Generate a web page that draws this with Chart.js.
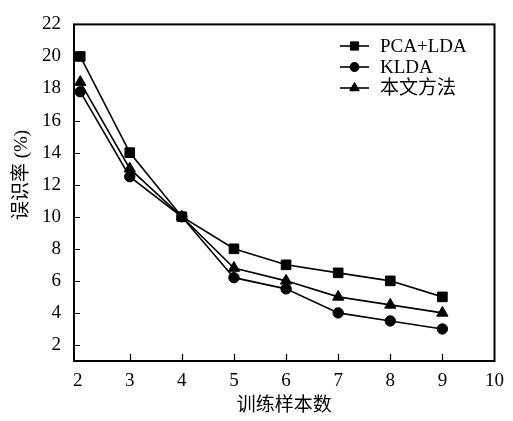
<!DOCTYPE html>
<html>
<head>
<meta charset="utf-8">
<script src="https://cdn.jsdelivr.net/npm/chart.js@4.4.1/dist/chart.umd.min.js"></script>
<style>
  html, body { margin: 0; padding: 0; background: #fff; }
  #wrap { width: 513px; height: 421px; }
</style>
</head>
<body>
<div id="wrap"><canvas id="c" width="513" height="421"></canvas></div>
<script>
// ---- data ----
const trainSamples = [2.05, 3, 4, 5, 6, 7, 8, 9];   // x position of each marker
const pcaLda = [20, 14, 10, 8, 7, 6.5, 6, 5];
const klda = [17.8, 12.5, 10, 6.2, 5.5, 4, 3.5, 3];
const proposed = [18.4, 13, 10, 6.8, 6, 5, 4.5, 4];
const seriesNames = ['PCA+LDA', 'KLDA', '本文方法'];
const xTicks = [2, 3, 4, 5, 6, 7, 8, 9, 10];
const yTicks = [2, 4, 6, 8, 10, 12, 14, 16, 18, 20, 22];
const xTitle = '训练样本数';
const yTitle = '误识率 (%)';

const FONT = '"Liberation Serif", "Noto Sans CJK SC", serif';

function pts(ys) { return ys.map((y, i) => ({ x: trainSamples[i], y })); }

function ds(label, ys, style, r) {
  return {
    label, data: pts(ys),
    borderColor: '#000', backgroundColor: '#000',
    borderWidth: 1.6, pointStyle: style, pointRadius: r,
    pointBorderWidth: 1, pointBackgroundColor: '#000', pointBorderColor: '#000',
    tension: 0, fill: false
  };
}

const framePlugin = {
  id: 'frame',
  afterDraw(chart) {
    const { ctx, chartArea: a, scales } = chart;
    ctx.save();
    ctx.strokeStyle = '#000';
    // inward tick marks
    ctx.lineWidth = 1.2;
    ctx.beginPath();
    xTicks.forEach(v => {
      if (v <= 2 || v >= 10) return;
      const x = Math.round(scales.x.getPixelForValue(v)) + 0.5;
      ctx.moveTo(x, a.bottom); ctx.lineTo(x, a.bottom - 7);
    });
    yTicks.forEach(v => {
      if (v >= 22) return;
      const y = Math.round(scales.y.getPixelForValue(v)) + 0.5;
      ctx.moveTo(a.left, y); ctx.lineTo(a.left + 6, y);
    });
    ctx.stroke();
    // frame
    ctx.lineWidth = 2;
    ctx.strokeRect(a.left, a.top, a.right - a.left, a.bottom - a.top);
    // y axis title
    ctx.fillStyle = '#000';
    ctx.font = '19px ' + FONT;
    ctx.textAlign = 'center';
    ctx.textBaseline = 'middle';
    ctx.save();
    ctx.translate(22, 175);
    ctx.rotate(-Math.PI / 2);
    ctx.fillText(yTitle, 0, 0);
    ctx.restore();
    // legend
    const rows = [46, 67, 88];
    ctx.font = '19px ' + FONT;
    ctx.textBaseline = 'middle';
    ctx.textAlign = 'left';
    chart.data.datasets.forEach((d, i) => {
      const y = rows[i];
      ctx.lineWidth = 1.6;
      ctx.beginPath();
      ctx.moveTo(340, y); ctx.lineTo(369, y);
      ctx.stroke();
      ctx.lineWidth = 1;
      Chart.helpers.drawPoint(ctx, { pointStyle: d.pointStyle, rotation: 0, borderWidth: 1, radius: d.pointRadius * 0.85 }, 354.5, y);
      ctx.fill();
      ctx.fillText(d.label, 380, y + 1);
    });
    ctx.restore();
  }
};

new Chart(document.getElementById('c'), {
  type: 'line',
  data: {
    datasets: [
      ds(seriesNames[0], pcaLda, 'rect', 6.8),
      ds(seriesNames[1], klda, 'circle', 5.2),
      ds(seriesNames[2], proposed, 'triangle', 6.5)
    ]
  },
  options: {
    responsive: false,
    animation: false,
    devicePixelRatio: 1,
    layout: { padding: { top: 17, right: 17, bottom: 0, left: 0 } },
    plugins: { legend: { display: false }, tooltip: { enabled: false } },
    scales: {
      x: {
        type: 'linear', min: 1.93, max: 10,
        afterBuildTicks: s => { s.ticks = xTicks.map(v => ({ value: v })); },
        afterFit: s => { s.height = 60; },
        grid: { display: false, drawTicks: false },
        border: { display: false },
        ticks: { color: '#000', padding: 9, font: { family: FONT, size: 19 }, maxRotation: 0, autoSkip: false },
        title: { display: true, text: xTitle, color: '#000', font: { family: FONT, size: 19 }, padding: { top: 0, bottom: 4 } }
      },
      y: {
        type: 'linear', min: 1, max: 22,
        afterBuildTicks: s => { s.ticks = yTicks.map(v => ({ value: v })); },
        afterFit: s => { s.width = 74; },
        grid: { display: false, drawTicks: false },
        border: { display: false },
        ticks: { color: '#000', padding: 13, font: { family: FONT, size: 19 }, autoSkip: false },
        title: { display: false }
      }
    }
  },
  plugins: [framePlugin]
});
</script>
</body>
</html>
